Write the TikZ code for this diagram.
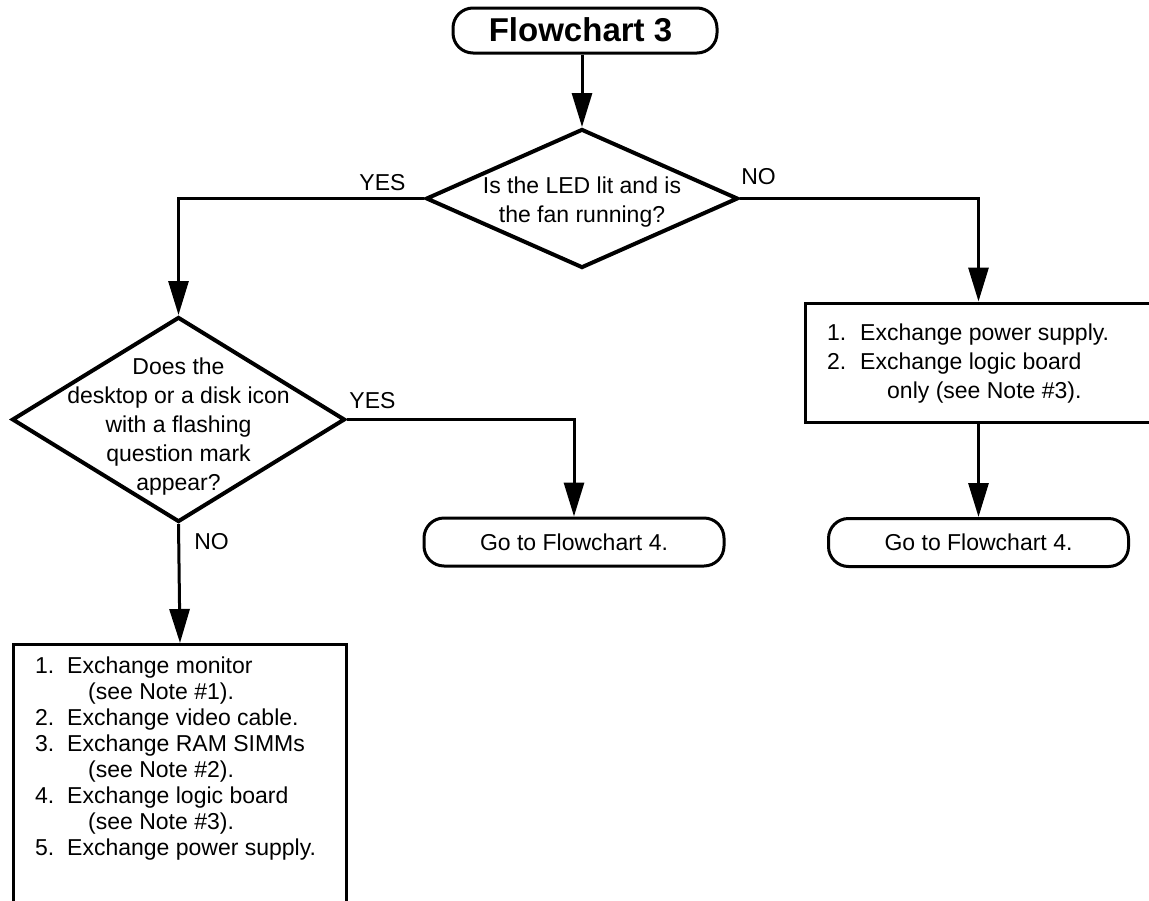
\documentclass[tikz,border=0pt]{standalone}
\usepackage{fontspec}
\setmainfont{Liberation Sans}
\usetikzlibrary{shapes.geometric,arrows.meta}
\newcommand{\itemno}[2]{\makebox[#1][l]{#2}}
\begin{document}
\begin{tikzpicture}[x=1pt,y=-1pt,
  txt/.style={font=\fontsize{23}{29}\selectfont, inner sep=0pt},
  decision/.style={draw, diamond, line width=4pt, inner sep=0pt},
  terminal/.style={draw, rounded corners=20pt, line width=3pt, inner sep=0pt,
    minimum width=300pt, minimum height=48pt, font=\fontsize{23}{29}\selectfont},
  actionbox/.style={draw, rectangle, line width=3pt, inner sep=0pt},
  flow/.style={line width=3pt, -{Triangle[length=34pt,width=20pt]}},
]
\clip (0,0) rectangle (1149,900);

% start terminal
\node[terminal, minimum width=264pt, minimum height=45pt] (start) at (585,30.5) {};
\node[txt, font=\fontsize{33}{36}\selectfont\bfseries] (starttext) at (580.5,30) {Flowchart 3};

% first decision
\node[decision, minimum width=312pt, minimum height=139pt] (q1) at (582,198.5) {};
\node[txt, align=center] (q1text) at (582,202) {Is the LED lit and is\\the fan running?};

% second decision
\node[decision, minimum width=333pt, minimum height=205pt] (q2) at (178.5,419.5) {};
\node[txt, align=center] (q2text) at (178.5,427) {Does the\\desktop or a disk icon\\with a flashing\\question mark\\appear?};

% power fault actions
\node[actionbox, minimum width=347pt, minimum height=119pt] (fixpower) at (978.5,362.5) {};
\node[txt, anchor=west, align=left] (fixpowertext) at (827,364)
  {\itemno{33pt}{1.}Exchange power supply.\\
   \itemno{33pt}{2.}Exchange logic board\\
   \hspace*{60pt}only (see Note \#3).};

% video fault actions
\node[actionbox, minimum width=333pt, minimum height=290pt, anchor=north west] (fixvideo) at (12,643) {};
\node[txt, font=\fontsize{23}{26}\selectfont, anchor=west, align=left] (fixvideotext) at (35,759)
  {\itemno{32pt}{1.}Exchange monitor\\
   \hspace*{53pt}(see Note \#1).\\
   \itemno{32pt}{2.}Exchange video cable.\\
   \itemno{32pt}{3.}Exchange RAM SIMMs\\
   \hspace*{53pt}(see Note \#2).\\
   \itemno{32pt}{4.}Exchange logic board\\
   \hspace*{53pt}(see Note \#3).\\
   \itemno{32pt}{5.}Exchange power supply.};

% end terminals
\node[terminal] (goL) at (574,542) {Go to Flowchart 4.};
\node[terminal] (goR) at (978.5,542.5) {Go to Flowchart 4.};

% branch labels
\node[txt] (yes1) at (382.5,183) {YES};
\node[txt] (no1) at (758.5,177) {NO};
\node[txt] (yes2) at (372.5,400.5) {YES};
\node[txt] (no2) at (211.5,541.5) {NO};

% connectors
\draw[flow] (start.south -| q1.north) -- (q1.north);
\draw[flow] (q1.west) -| (q2.north);
\draw[flow] (q1.east) -| (fixpower.north);
\draw[flow] (q2.east) -| (goL.north);
\draw[flow] (q2.south) -- (fixvideo.north);
\draw[flow] (fixpower.south) -- (goR.north);
\end{tikzpicture}
\end{document}
